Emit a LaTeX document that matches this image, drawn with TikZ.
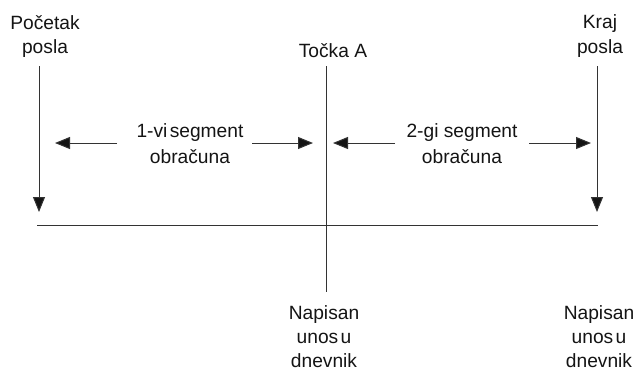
\documentclass[tikz,border=0pt]{standalone}
\usepackage{fontspec}
\setmainfont{Liberation Sans}
\usetikzlibrary{arrows.meta}
\begin{document}
\begin{tikzpicture}[x=1pt,y=-1pt,
  lbl/.style={font=\fontsize{19.2}{24}\selectfont, inner sep=0pt, anchor=base, text=black!92},
  ln/.style={draw=black!80, line width=1pt},
  arr/.style={ln, -{Triangle[length=15pt,width=12pt,fill=black!92]}}]
\useasboundingbox (0,0) rectangle (635,373);

% labels above the time line
\node[lbl] (startA) at (45,29) {Početak};
\node[lbl] (startB) at (45,53) {posla};
\node[lbl] (endA) at (600,28) {Kraj};
\node[lbl] (endB) at (600,53) {posla};
\node[lbl] (pointA) at (333,57) {Točka A};

% segment captions
\node[lbl] (segOneA) at (190,137) {1-vi\hspace{0.12em}segment};
\node[lbl] (segOneB) at (190,163) {obračuna};
\node[lbl] (segTwoA) at (462,137) {2-gi segment};
\node[lbl] (segTwoB) at (462,163) {obračuna};

% journal entries below the line
\node[lbl] (jrnA1) at (324,319) {Napisan};
\node[lbl] (jrnA2) at (324,343) {unos\hspace{0.12em}u};
\node[lbl] (jrnA3) at (324,367) {dnevnik};
\node[lbl] (jrnB1) at (599,319) {Napisan};
\node[lbl] (jrnB2) at (599,343) {unos\hspace{0.12em}u};
\node[lbl] (jrnB3) at (599,367) {dnevnik};

% end points of the connectors
\coordinate (startTop) at (39,66);
\coordinate (startTip) at (39,212);
\coordinate (endTop) at (597,66);
\coordinate (endTip) at (597,212);
\coordinate (midTop) at (326,66);
\coordinate (midBot) at (326,292);
\coordinate (lineL) at (37,225);
\coordinate (lineR) at (598,225);

\coordinate (s1lFrom) at (117,143);
\coordinate (s1lTo) at (55,143);
\coordinate (s1rFrom) at (252,143);
\coordinate (s1rTo) at (313,143);
\coordinate (s2lFrom) at (395,143);
\coordinate (s2lTo) at (333,143);
\coordinate (s2rFrom) at (529,143);
\coordinate (s2rTo) at (591,143);

% time line and markers
\draw[ln] (lineL) -- (lineR);
\draw[ln, line width=0.9pt] (midTop) -- (midBot);
\draw[arr] (startTop) -- (startTip);
\draw[arr] (endTop) -- (endTip);

% segment arrows
\draw[arr] (s1lFrom) -- (s1lTo);
\draw[arr] (s1rFrom) -- (s1rTo);
\draw[arr] (s2lFrom) -- (s2lTo);
\draw[arr] (s2rFrom) -- (s2rTo);
\end{tikzpicture}
\end{document}
